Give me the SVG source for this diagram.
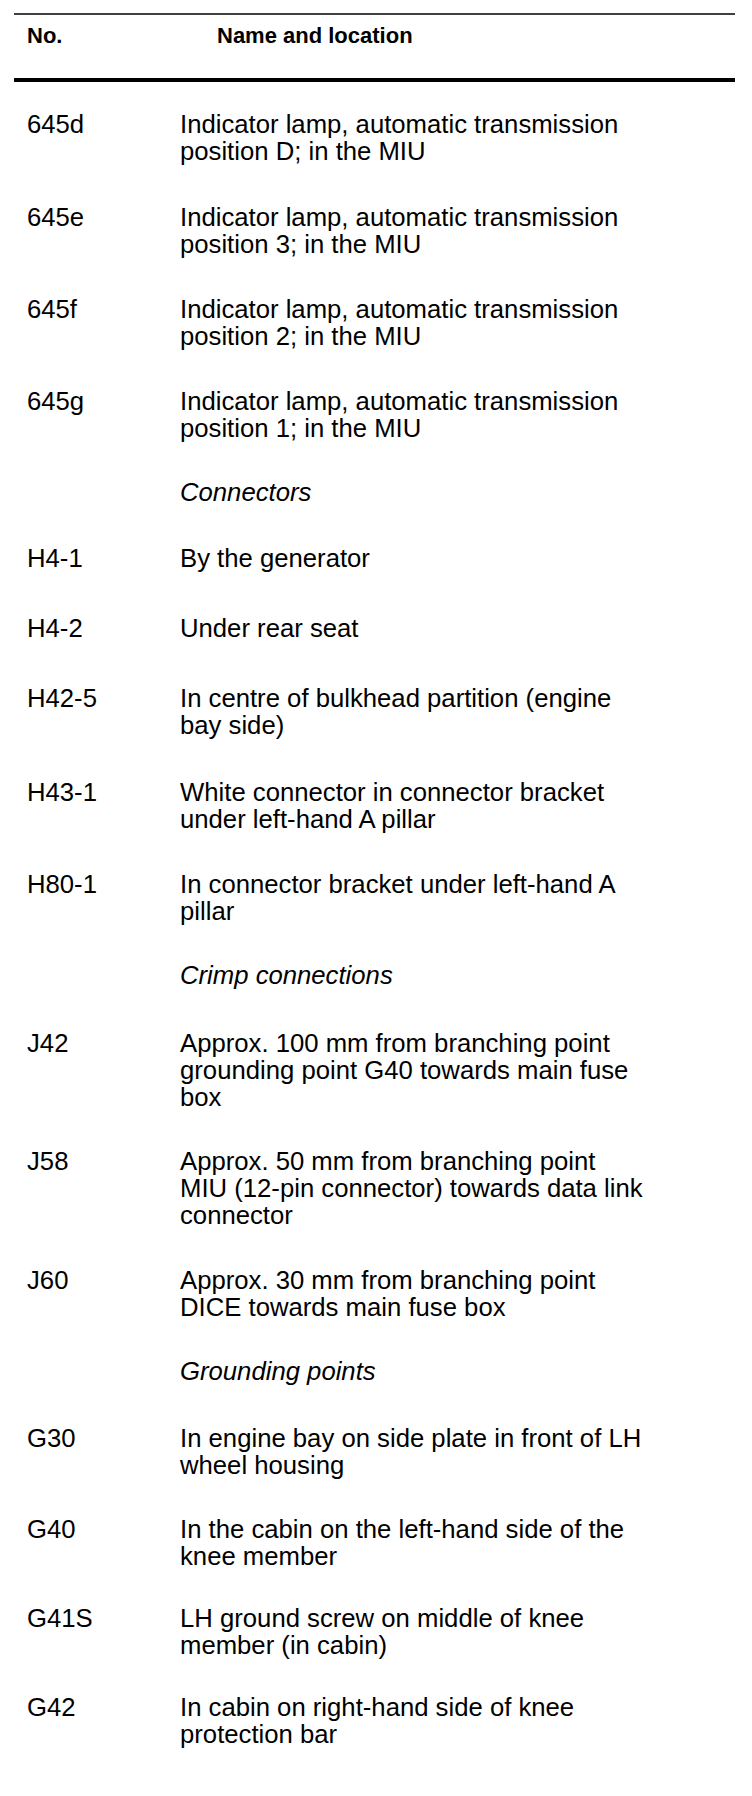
<svg xmlns="http://www.w3.org/2000/svg" width="752" height="1796" viewBox="0 0 752 1796">
<style>
text{font-family:"Liberation Sans",Arial,sans-serif;fill:#000}
.h{font-size:22px;font-weight:bold}
.t{font-size:25.7px}
.i{font-size:25.7px;font-style:italic}
.rule{stroke:#000;fill:none}
</style>
<rect width="752" height="1796" fill="#fff"/>
<g id="rules">
<line class="rule" x1="14" y1="14" x2="735" y2="14" stroke-width="1.5"/>
<line class="rule" x1="14" y1="80" x2="735" y2="80" stroke-width="4"/>
</g>
<g id="connectors"/>
<g id="header"><text class="h" x="27" y="43">No.</text><text class="h" x="217" y="43">Name and location</text></g>
<g id="r645d"><text class="t" x="27" y="133">645d</text><text class="t" x="180" y="133">Indicator lamp, automatic transmission</text><text class="t" x="180" y="160">position D; in the MIU</text></g>
<g id="r645e"><text class="t" x="27" y="226">645e</text><text class="t" x="180" y="226">Indicator lamp, automatic transmission</text><text class="t" x="180" y="253">position 3; in the MIU</text></g>
<g id="r645f"><text class="t" x="27" y="318">645f</text><text class="t" x="180" y="318">Indicator lamp, automatic transmission</text><text class="t" x="180" y="345">position 2; in the MIU</text></g>
<g id="r645g"><text class="t" x="27" y="410">645g</text><text class="t" x="180" y="410">Indicator lamp, automatic transmission</text><text class="t" x="180" y="437">position 1; in the MIU</text></g>
<g id="secConnectors"><text class="i" x="180" y="501">Connectors</text></g>
<g id="rH4-1"><text class="t" x="27" y="567">H4-1</text><text class="t" x="180" y="567">By the generator</text></g>
<g id="rH4-2"><text class="t" x="27" y="637">H4-2</text><text class="t" x="180" y="637">Under rear seat</text></g>
<g id="rH42-5"><text class="t" x="27" y="707">H42-5</text><text class="t" x="180" y="707">In centre of bulkhead partition (engine</text><text class="t" x="180" y="734">bay side)</text></g>
<g id="rH43-1"><text class="t" x="27" y="801">H43-1</text><text class="t" x="180" y="801">White connector in connector bracket</text><text class="t" x="180" y="828">under left-hand A pillar</text></g>
<g id="rH80-1"><text class="t" x="27" y="893">H80-1</text><text class="t" x="180" y="893">In connector bracket under left-hand A</text><text class="t" x="180" y="920">pillar</text></g>
<g id="secCrimp"><text class="i" x="180" y="984">Crimp connections</text></g>
<g id="rJ42"><text class="t" x="27" y="1052">J42</text><text class="t" x="180" y="1052">Approx. 100 mm from branching point</text><text class="t" x="180" y="1079">grounding point G40 towards main fuse</text><text class="t" x="180" y="1106">box</text></g>
<g id="rJ58"><text class="t" x="27" y="1170">J58</text><text class="t" x="180" y="1170">Approx. 50 mm from branching point</text><text class="t" x="180" y="1197">MIU (12-pin connector) towards data link</text><text class="t" x="180" y="1224">connector</text></g>
<g id="rJ60"><text class="t" x="27" y="1289">J60</text><text class="t" x="180" y="1289">Approx. 30 mm from branching point</text><text class="t" x="180" y="1316">DICE towards main fuse box</text></g>
<g id="secGrounding"><text class="i" x="180" y="1380">Grounding points</text></g>
<g id="rG30"><text class="t" x="27" y="1447">G30</text><text class="t" x="180" y="1447">In engine bay on side plate in front of LH</text><text class="t" x="180" y="1474">wheel housing</text></g>
<g id="rG40"><text class="t" x="27" y="1538">G40</text><text class="t" x="180" y="1538">In the cabin on the left-hand side of the</text><text class="t" x="180" y="1565">knee member</text></g>
<g id="rG41S"><text class="t" x="27" y="1627">G41S</text><text class="t" x="180" y="1627">LH ground screw on middle of knee</text><text class="t" x="180" y="1654">member (in cabin)</text></g>
<g id="rG42"><text class="t" x="27" y="1716">G42</text><text class="t" x="180" y="1716">In cabin on right-hand side of knee</text><text class="t" x="180" y="1743">protection bar</text></g>
</svg>
